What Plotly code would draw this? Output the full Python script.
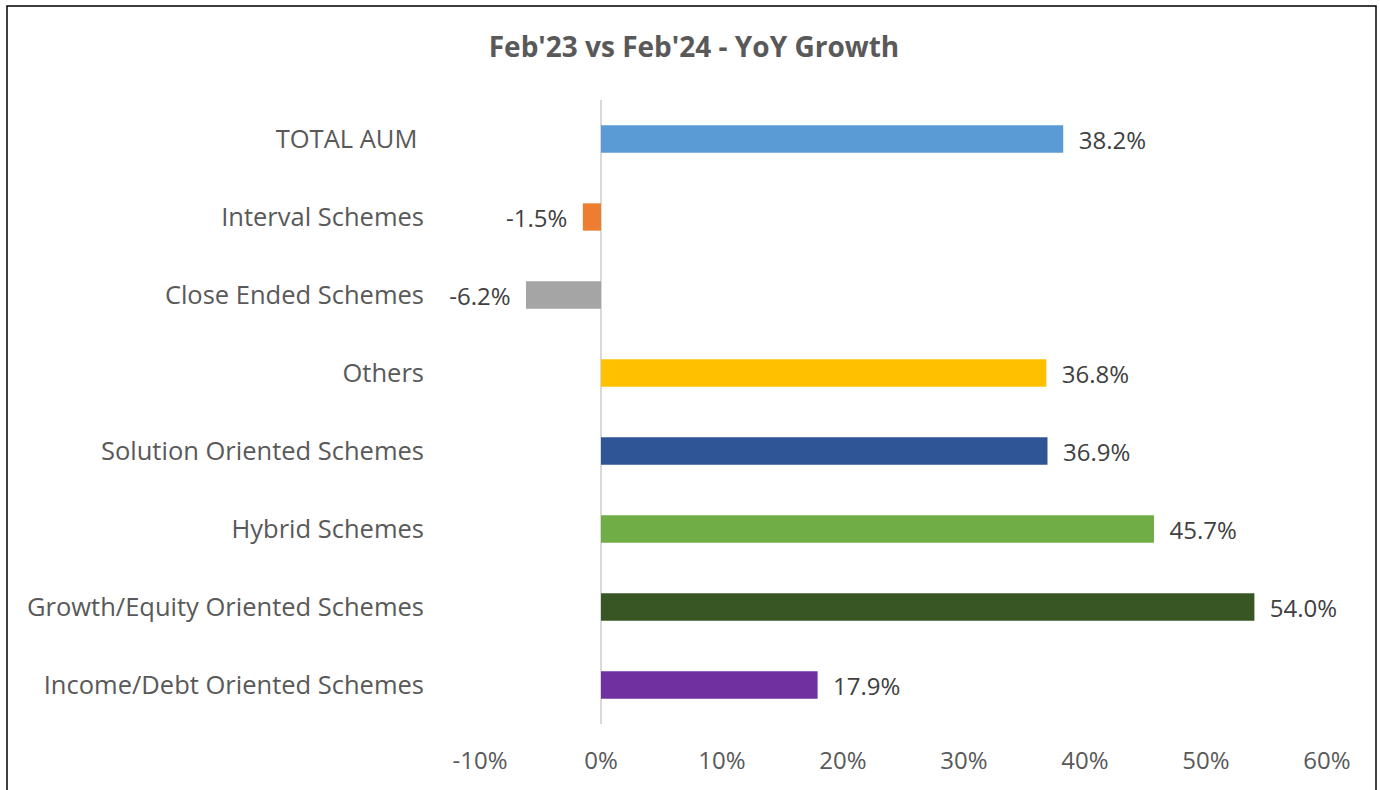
import plotly.graph_objects as go

categories = ["TOTAL AUM ", "Interval Schemes", "Close Ended Schemes", "Others",
              "Solution Oriented Schemes", "Hybrid Schemes",
              "Growth/Equity Oriented Schemes", "Income/Debt Oriented Schemes"]
growth = [0.382, -0.015, -0.062, 0.368, 0.369, 0.457, 0.540, 0.179]
colors = ["#5B9BD5", "#ED7D31", "#A5A5A5", "#FFC000",
          "#2F5597", "#70AD47", "#375623", "#7030A0"]
tick_vals = [-0.1, 0, 0.1, 0.2, 0.3, 0.4, 0.5, 0.6]
tick_text = ["-10%", "0%", "10%", "20%", "30%", "40%", "50%", "60%"]
title = "Feb'23 vs Feb'24 - YoY Growth"

W, H = 1380, 790
ml, mr, mt, mb = 480, 53, 100, 66
pw = W - ml - mr
ph = H - mt - mb

labels = [("  " + f"{v:.1%}") if v >= 0 else (f"{v:.1%}" + "  ") for v in growth]

fig = go.Figure(go.Bar(
    x=growth, y=categories, orientation="h",
    marker=dict(color=colors, line=dict(width=0)),
    text=labels, texttemplate="%{text}", textposition="outside",
    constraintext="none",
    textfont=dict(family="Open Sans", size=24, color="#404040"),
    cliponaxis=False,
))

fig.update_layout(
    width=W, height=H,
    margin=dict(l=ml, r=mr, t=mt, b=mb),
    paper_bgcolor="white", plot_bgcolor="white",
    bargap=0.65,
    showlegend=False,
    title=dict(text="<b>" + title + "</b>", x=(694 - ml) / pw, xref="paper", xanchor="center",
               y=1 - 47 / H, yanchor="middle",
               font=dict(family="Open Sans", size=28, color="#595959")),
    font=dict(family="Open Sans", color="#595959"),
    xaxis=dict(range=[-0.1, 0.6], tickvals=tick_vals, ticktext=tick_text,
               showgrid=False, zeroline=True, zerolinecolor="#D9D9D9", zerolinewidth=2,
               showline=False, ticks="", ticklabelstandoff=20,
               tickfont=dict(family="Open Sans", size=24, color="#595959")),
    yaxis=dict(autorange="reversed", showgrid=False, showline=False, ticks="",
               ticklabelstandoff=55,
               tickfont=dict(family="Open Sans", size=25.5, color="#595959")),
    shapes=[dict(type="rect", xref="paper", yref="paper",
                 x0=(7 - ml) / pw, x1=(1376 - ml) / pw,
                 y0=-(H + 5 - mt - ph) / ph, y1=1 + (mt - 6) / ph,
                 line=dict(color="#000000", width=1.5), fillcolor="rgba(0,0,0,0)",
                 layer="below")],
)

fig.write_html("out.html", config={"displayModeBar": False},
               post_script="document.body.style.margin='0';document.body.style.overflow='hidden';")
